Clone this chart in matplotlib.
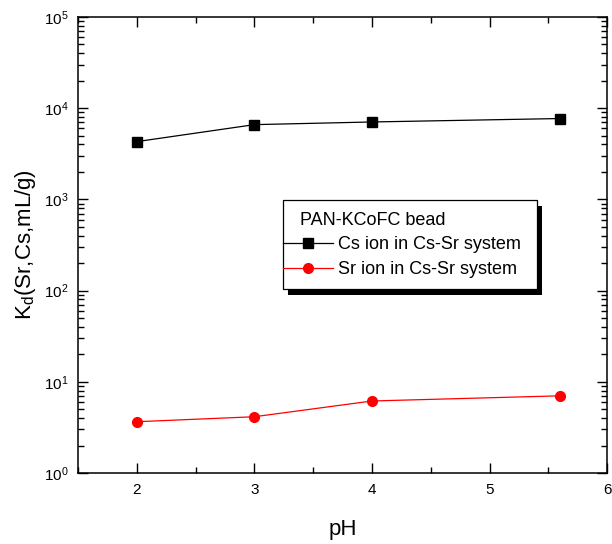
import matplotlib
matplotlib.use("Agg")
import matplotlib.pyplot as plt
from matplotlib.patches import Rectangle
from matplotlib.ticker import LogLocator, MultipleLocator, NullFormatter

plt.rcParams['font.family'] = ['Liberation Sans', 'DejaVu Sans']
plt.rcParams['mathtext.fontset'] = 'custom'
plt.rcParams['mathtext.rm'] = 'Liberation Sans'
plt.rcParams['mathtext.it'] = 'Liberation Sans:italic'

# pH values and distribution coefficients
ph = [2, 3, 4, 5.6]
kd_cs = [4300, 6600, 7060, 7700]
kd_sr = [3.65, 4.14, 6.16, 7.02]

legend_title = "PAN-KCoFC bead"
label_cs = "Cs ion in Cs-Sr system"
label_sr = "Sr ion in Cs-Sr system"

fig = plt.figure(figsize=(6.12, 5.44), dpi=100)
ax = fig.add_axes([0.1275, 0.1305, 0.8645, 0.8383])

ax.plot(ph, kd_cs, color='black', lw=0.9, marker='s', ms=6.5,
        mec='black', mfc='black', label=label_cs)
ax.plot(ph, kd_sr, color='red', lw=0.9, marker='o', ms=7,
        mec='red', mfc='red', label=label_sr)

ax.set_yscale('log')
ax.set_xlim(1.5, 6)
ax.set_ylim(1, 1e5)
ax.xaxis.set_major_locator(MultipleLocator(1))
ax.xaxis.set_minor_locator(MultipleLocator(0.5))
ax.yaxis.set_major_locator(LogLocator(base=10, numticks=10))
ax.yaxis.set_minor_locator(LogLocator(base=10, subs=range(2, 10), numticks=20))
ax.yaxis.set_minor_formatter(NullFormatter())

for s in ax.spines.values():
    s.set_linewidth(1.1)
ax.tick_params(which='both', direction='in', top=True, right=True,
               labelsize=11, width=1.0, colors='black')
ax.tick_params(which='major', length=7, pad=7)
ax.tick_params(which='minor', length=4)

ax.set_xlabel('pH', fontsize=16, labelpad=16)
ax.set_ylabel(r'K$_\mathregular{d}$(Sr,Cs,mL/g)', fontsize=16, labelpad=4)


# pixel position (from the top-left of the figure) -> axes fraction
def to_axes(px, py):
    return (px - 78) / 529.0, (473 - py) / 456.0


# Legend box: shadow, white frame, title and entries
x0, y0 = to_axes(283, 289)
x1, y1 = to_axes(537, 200)
shadow = Rectangle((x0 + 5 / 529.0, y0 - 6 / 456.0), x1 - x0, y1 - y0,
                   transform=ax.transAxes, facecolor='black',
                   edgecolor='none', zorder=4)
frame = Rectangle((x0, y0), x1 - x0, y1 - y0, transform=ax.transAxes,
                  facecolor='white', edgecolor='black', lw=0.9, zorder=4.5)
ax.add_patch(shadow)
ax.add_patch(frame)

tx, ty = to_axes(300, 221)
ax.text(tx, ty, legend_title, transform=ax.transAxes, fontsize=13,
        va='center', ha='left', zorder=6)

lx, ly = to_axes(283, 236)
leg = ax.legend(loc='upper left', bbox_to_anchor=(lx, ly),
                borderaxespad=0, borderpad=0, fontsize=13,
                frameon=False, handlelength=2.75, handletextpad=0.3,
                labelspacing=0.47)
leg.set_zorder(6)

fig.savefig('out.png', dpi=100)
